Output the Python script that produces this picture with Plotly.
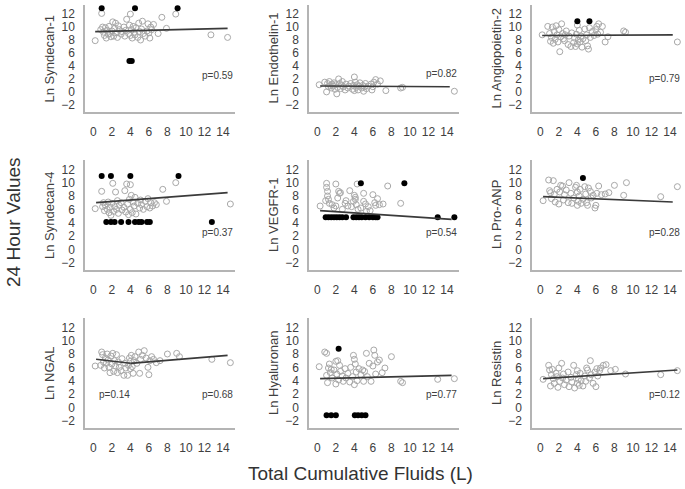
import plotly.graph_objects as go

# ---------------- data ----------------
titles = ["Ln Syndecan-1", "Ln Endothelin-1", "Ln Angiopoietin-2",
          "Ln Syndecan-4", "Ln VEGFR-1", "Ln Pro-ANP",
          "Ln NGAL", "Ln Hyaluronan", "Ln Resistin"]

x_ticks = [0, 2, 4, 6, 8, 10, 12, 14]
y_ticks = [-2, 0, 2, 4, 6, 8, 10, 12]

# Panel 1: Syndecan-1
syn1_x = [0.2,0.8,0.9,1.0,1.1,1.2,1.3,1.4,1.5,1.6,1.7,1.8,1.9,2.0,2.1,2.2,2.3,2.4,2.5,2.6,2.7,2.8,3.0,3.1,3.3,3.4,3.5,3.6,3.8,3.9,4.0,4.0,4.1,4.2,4.3,4.4,4.5,4.6,4.8,4.9,5.0,5.1,5.2,5.3,5.4,5.6,5.8,5.9,6.0,6.1,6.2,6.3,6.5,7.0,7.4,7.9,8.9,12.7,14.5]
syn1_y = [7.9,9.6,12.1,10.0,9.2,8.7,9.9,8.3,9.5,8.9,10.1,9.0,8.5,9.4,10.8,8.6,9.8,10.6,9.1,8.4,10.2,9.6,8.9,9.3,10.0,8.6,9.5,11.2,9.0,10.3,8.7,12.0,9.6,8.3,10.1,9.2,8.8,9.9,8.4,10.6,9.3,8.0,9.7,10.9,9.0,8.6,9.4,10.5,9.1,8.3,10.0,9.6,10.4,9.0,11.5,9.8,12.0,8.8,8.4]
syn1_out_x = [0.9,4.5,9.1,3.9,4.15]
syn1_out_y = [12.9,12.9,12.9,4.75,4.75]
syn1_fit_x = [0.2,14.5]
syn1_fit_y = [9.3,9.8]

# Panel 2: Endothelin-1
end1_x = [0.2,0.8,1.0,1.1,1.2,1.3,1.4,1.5,1.6,1.7,1.8,1.9,2.0,2.1,2.2,2.3,2.4,2.5,2.6,2.7,2.8,3.0,3.1,3.3,3.4,3.6,3.8,3.9,4.0,4.0,4.1,4.2,4.3,4.4,4.5,4.6,4.8,4.9,5.0,5.1,5.2,5.3,5.5,5.8,5.9,6.0,6.1,6.3,6.5,6.8,7.4,9.0,9.2,14.8]
end1_y = [1.1,1.5,0.0,1.3,0.8,1.6,1.0,0.6,1.2,0.9,1.4,0.4,1.1,-0.3,0.7,2.0,1.3,0.5,1.0,1.6,0.8,0.3,1.2,0.6,0.9,1.3,0.4,1.0,2.3,0.2,1.5,0.7,1.1,0.3,0.9,1.4,0.6,1.0,0.1,0.8,1.3,0.5,0.9,1.2,0.3,0.8,1.5,1.9,1.2,1.7,0.2,0.6,0.7,0.1]
end1_out_x = []
end1_out_y = []
end1_fit_x = [0.3,14.3]
end1_fit_y = [0.9,0.8]

# Panel 3: Angiopoietin-2
ang2_x = [0.2,0.8,1.0,1.1,1.2,1.3,1.4,1.5,1.6,1.7,1.8,1.9,2.0,2.1,2.2,2.3,2.4,2.5,2.6,2.7,2.8,3.0,3.1,3.3,3.4,3.6,3.7,3.8,3.9,4.0,4.0,4.1,4.2,4.3,4.4,4.5,4.6,4.8,4.9,5.0,5.1,5.2,5.3,5.4,5.6,5.8,6.0,6.1,6.2,6.3,6.5,6.7,7.0,7.3,9.0,9.2,14.8]
ang2_y = [8.8,10.1,9.0,7.8,8.4,10.0,7.5,9.3,8.1,10.2,8.8,7.7,9.6,6.2,8.5,10.5,9.0,8.2,7.9,8.8,9.4,7.3,8.6,7.0,9.1,7.6,8.3,7.0,8.9,10.3,7.4,8.0,9.5,7.7,8.6,6.9,8.2,9.7,7.9,8.8,7.1,6.6,9.9,8.4,9.3,8.7,9.6,10.1,8.9,10.5,9.2,10.1,7.7,8.5,9.4,9.2,7.7]
ang2_out_x = [4.0,5.3]
ang2_out_y = [10.9,10.9]
ang2_fit_x = [0.2,14.3]
ang2_fit_y = [8.7,8.8]

# Panel 4: Syndecan-4
syn4_x = [0.2,0.9,1.0,1.1,1.2,1.3,1.5,1.6,1.7,1.8,1.9,2.0,2.1,2.2,2.3,2.4,2.5,2.6,2.7,2.8,3.0,3.1,3.3,3.4,3.5,3.6,3.7,3.8,3.9,4.0,4.0,4.1,4.2,4.3,4.4,4.5,4.6,4.8,5.0,5.1,5.2,5.4,5.6,5.8,5.9,6.1,6.2,6.4,6.6,6.8,7.5,7.9,8.9,14.8]
syn4_y = [6.1,8.7,6.4,7.0,5.8,6.6,6.0,7.1,5.5,6.3,5.1,6.9,9.9,5.7,6.4,8.6,6.0,7.3,5.4,6.6,7.0,5.9,6.3,8.8,5.6,9.8,6.8,5.2,7.5,9.7,6.0,8.1,5.5,7.1,6.5,7.8,5.3,6.9,6.2,7.4,6.7,6.0,7.2,6.4,7.6,6.2,7.0,6.5,7.0,6.7,9.0,7.2,10.0,6.8]
syn4_out_x = [0.9,1.9,4.0,9.2,1.4,1.9,2.3,3.0,3.8,4.5,4.9,5.2,5.8,6.1,12.8]
syn4_out_y = [11.0,11.0,11.0,11.0,4.1,4.1,4.1,4.1,4.1,4.1,4.1,4.1,4.1,4.1,4.1]
syn4_fit_x = [0.3,14.5]
syn4_fit_y = [7.0,8.5]

# Panel 5: VEGFR-1
vegf_x = [0.3,0.9,1.0,1.0,1.1,1.1,1.2,1.3,1.6,1.8,2.0,2.0,2.2,2.3,2.4,2.5,2.7,3.0,3.1,3.3,3.5,3.7,3.9,4.0,4.1,4.1,4.2,4.3,4.4,4.7,5.0,5.0,5.2,5.3,5.5,5.7,6.0,6.2,6.3,6.5,6.7,7.1,7.6,9.0]
vegf_y = [6.5,7.3,9.9,9.3,8.7,8.0,7.5,6.9,6.7,6.2,9.8,6.5,7.7,8.7,8.4,8.5,6.0,6.9,7.3,6.5,8.8,6.4,7.2,8.1,7.8,7.5,6.7,9.8,6.0,6.2,8.4,7.2,6.8,5.7,6.4,5.8,8.2,7.0,6.6,7.6,6.7,6.8,9.5,6.9]
vegf_out_x = [0.9,1.2,1.5,1.8,2.1,2.4,2.7,3.1,3.9,4.2,4.5,4.8,5.2,5.6,6.0,6.3,6.5,13.0,14.8,4.7,9.4]
vegf_out_y = [4.8,4.8,4.8,4.8,4.8,4.8,4.8,4.8,4.8,4.8,4.8,4.8,4.8,4.8,4.8,4.8,4.8,4.8,4.8,9.9,9.9]
vegf_fit_x = [0.3,14.5]
vegf_fit_y = [5.8,4.5]

# Panel 6: Pro-ANP
panp_x = [0.3,0.9,1.0,1.1,1.2,1.4,1.5,1.6,1.8,2.0,2.1,2.2,2.4,2.5,2.6,2.8,3.0,3.1,3.3,3.4,3.6,3.8,3.9,4.0,4.0,4.1,4.2,4.3,4.4,4.6,4.8,4.9,5.0,5.1,5.2,5.4,5.5,5.7,5.9,6.0,6.1,6.3,6.6,7.0,7.4,8.0,9.0,9.3,13.0,14.8]
panp_y = [7.3,10.4,8.8,8.5,7.6,10.3,8.2,7.1,9.0,6.8,8.6,9.6,9.5,7.4,8.2,8.9,7.0,10.0,8.4,6.9,7.7,9.3,9.6,8.6,6.6,7.2,8.0,9.0,6.9,7.5,9.4,8.3,7.0,6.6,9.2,8.7,7.7,8.1,6.2,6.6,8.4,9.5,8.2,8.3,8.5,9.6,8.1,10.0,7.9,9.4]
panp_out_x = [4.6]
panp_out_y = [10.7]
panp_fit_x = [0.3,14.3]
panp_fit_y = [7.9,7.1]

# Panel 7: NGAL (two segments)
ngal_x = [0.2,0.8,0.9,1.0,1.1,1.2,1.3,1.4,1.5,1.6,1.7,1.8,1.9,2.0,2.1,2.2,2.3,2.4,2.5,2.6,2.7,2.8,3.0,3.1,3.3,3.4,3.5,3.7,3.8,3.9,4.0,4.0,4.1,4.2,4.3,4.4,4.5,4.7,4.9,5.0,5.1,5.3,5.5,5.7,5.9,6.0,6.1,6.3,6.5,6.8,7.2,8.0,9.0,9.3,12.8,14.8]
ngal_y = [6.2,6.3,8.3,7.9,6.8,5.9,7.4,6.6,8.0,7.1,6.0,5.2,7.7,6.5,8.1,5.4,7.0,6.2,7.9,5.2,6.8,6.0,5.5,7.3,4.8,6.6,5.9,4.8,6.3,7.4,5.8,6.9,7.8,6.1,5.1,7.0,7.6,6.6,8.3,5.1,7.2,7.8,8.5,7.4,6.0,4.9,7.0,7.6,7.2,6.7,7.0,8.0,8.1,7.6,7.2,6.7]
ngal_out_x = []
ngal_out_y = []
ngal_fit_x = [0.3,4.0,None,4.0,14.5]
ngal_fit_y = [7.2,6.6,None,6.6,7.8]

# Panel 8: Hyaluronan
hya_x = [0.2,0.8,1.0,1.0,1.1,1.2,1.3,1.4,1.5,1.6,1.8,2.0,2.0,2.1,2.2,2.3,2.4,2.5,2.7,2.8,3.0,3.1,3.3,3.5,3.6,3.8,3.9,4.0,4.0,4.1,4.2,4.3,4.5,4.7,4.9,5.0,5.1,5.3,5.4,5.6,5.8,6.0,6.1,6.2,6.3,6.5,6.7,7.0,7.3,8.0,9.0,9.2,13.0,14.8]
hya_y = [6.1,8.3,8.1,4.8,3.7,5.9,6.5,5.2,5.7,4.4,5.6,6.9,3.5,5.0,7.0,4.1,6.3,5.4,4.7,3.9,5.8,4.4,5.1,3.8,6.0,4.6,7.8,7.2,3.4,6.5,5.3,4.0,5.8,4.9,5.6,3.9,5.4,8.1,4.6,6.6,3.9,6.2,8.6,7.8,5.0,6.8,7.1,5.2,5.9,7.6,3.9,3.7,4.2,4.3]
hya_out_x = [2.3,1.0,1.5,2.0,4.05,4.4,4.8,5.2]
hya_out_y = [8.8,-1.2,-1.2,-1.2,-1.2,-1.2,-1.2,-1.2]
hya_fit_x = [0.3,14.5]
hya_fit_y = [4.3,4.8]

# Panel 9: Resistin
res_x = [0.3,0.9,1.0,1.1,1.2,1.3,1.4,1.5,1.7,1.8,1.9,2.0,2.1,2.3,2.4,2.5,2.6,2.8,3.0,3.1,3.3,3.4,3.6,3.7,3.9,4.0,4.0,4.1,4.2,4.3,4.4,4.6,4.8,4.9,5.0,5.1,5.3,5.4,5.5,5.7,5.9,6.0,6.1,6.2,6.4,6.5,6.8,7.1,7.6,8.1,9.2,13.0,14.8]
res_y = [4.2,6.3,5.6,3.2,4.9,5.7,4.3,3.6,5.1,4.6,3.0,5.9,3.9,6.6,4.4,5.0,3.4,4.1,5.3,3.1,4.5,3.8,6.3,2.9,4.9,3.6,5.5,4.2,3.3,5.1,4.0,3.2,4.7,3.9,5.9,5.6,4.4,7.0,4.9,3.6,5.3,3.1,5.8,4.7,5.5,5.9,6.3,6.4,5.5,5.7,5.0,4.9,5.5]
res_out_x = []
res_out_y = []
res_fit_x = [0.3,14.8]
res_fit_y = [4.3,5.6]

p_labels = ["p=0.59", "p=0.82", "p=0.79", "p=0.37", "p=0.54", "p=0.28", "p=0.68", "p=0.77", "p=0.12"]
p_label_y = [2.5, 2.8, 2.1, 2.5, 2.5, 2.5, 2.0, 2.0, 2.0]
ngal_left_p = "p=0.14"

panels = [
    (syn1_x, syn1_y, syn1_out_x, syn1_out_y, syn1_fit_x, syn1_fit_y),
    (end1_x, end1_y, end1_out_x, end1_out_y, end1_fit_x, end1_fit_y),
    (ang2_x, ang2_y, ang2_out_x, ang2_out_y, ang2_fit_x, ang2_fit_y),
    (syn4_x, syn4_y, syn4_out_x, syn4_out_y, syn4_fit_x, syn4_fit_y),
    (vegf_x, vegf_y, vegf_out_x, vegf_out_y, vegf_fit_x, vegf_fit_y),
    (panp_x, panp_y, panp_out_x, panp_out_y, panp_fit_x, panp_fit_y),
    (ngal_x, ngal_y, ngal_out_x, ngal_out_y, ngal_fit_x, ngal_fit_y),
    (hya_x, hya_y, hya_out_x, hya_out_y, hya_fit_x, hya_fit_y),
    (res_x, res_y, res_out_x, res_out_y, res_fit_x, res_fit_y),
]

# ---------------- layout ----------------
W, H = 685, 489
col_px = [(85, 235), (309, 459), (532, 682)]
row_px = [(5, 112), (160, 270), (318, 428)]
FONT = "Arial, Liberation Sans, sans-serif"
TXT = "#404040"

fig = go.Figure()
layout = dict(
    width=W, height=H, margin=dict(l=0, r=0, t=0, b=0),
    plot_bgcolor="white", paper_bgcolor="white", showlegend=False,
    font=dict(family=FONT, color=TXT),
)
annotations = []

for i, (gx, gy, ox, oy, fx, fy) in enumerate(panels):
    r, c = divmod(i, 3)
    n = i + 1
    xa = "x" if n == 1 else f"x{n}"
    ya = "y" if n == 1 else f"y{n}"
    fig.add_trace(go.Scatter(x=gx, y=gy, mode="markers", xaxis=xa, yaxis=ya,
                             marker=dict(symbol="circle-open", size=6, color="#a8a8a8",
                                         line=dict(width=1, color="#a8a8a8")),
                             hoverinfo="skip"))
    if ox:
        fig.add_trace(go.Scatter(x=ox, y=oy, mode="markers", xaxis=xa, yaxis=ya,
                                 marker=dict(symbol="circle", size=6, color="black"),
                                 hoverinfo="skip"))
    fig.add_trace(go.Scatter(x=fx, y=fy, mode="lines", xaxis=xa, yaxis=ya,
                             line=dict(color="#3a3a3a", width=1.6), hoverinfo="skip",
                             connectgaps=False))
    x0, x1 = col_px[c]
    y0, y1 = row_px[r]
    key_x = "xaxis" if n == 1 else f"xaxis{n}"
    key_y = "yaxis" if n == 1 else f"yaxis{n}"
    layout[key_x] = dict(domain=[x0 / W, x1 / W], range=[-0.9, 15.3], anchor=ya,
                         tickvals=x_ticks, showgrid=False, zeroline=False,
                         showline=True, linecolor="#b4b4b4", linewidth=1.5,
                         ticks="", ticklabelstandoff=8, ticklabeloverflow="allow",
                         tickfont=dict(size=12, color=TXT, family=FONT))
    layout[key_y] = dict(domain=[1 - y1 / H, 1 - y0 / H], range=[-3.1, 13.4], anchor=xa,
                         tickvals=y_ticks, showgrid=False, zeroline=False,
                         showline=True, linecolor="#b4b4b4", linewidth=1.5,
                         ticks="", ticklabelstandoff=6, ticklabeloverflow="allow",
                         tickfont=dict(size=12, color=TXT, family=FONT))
    # y-axis title
    annotations.append(dict(text=titles[i], textangle=-90, xref="paper", yref="paper",
                            x=(x0 - 36) / W, y=1 - (y0 + y1) / 2 / H,
                            xanchor="center", yanchor="middle", showarrow=False,
                            font=dict(size=13, color=TXT, family=FONT)))
    # p-value
    annotations.append(dict(text=p_labels[i], xref=f"{xa} domain", yref=ya,
                            x=1.0, y=p_label_y[i], xanchor="right", yanchor="middle",
                            showarrow=False, font=dict(size=10, color=TXT, family=FONT)))
    if titles[i] == "Ln NGAL":
        annotations.append(dict(text=ngal_left_p, xref=xa, yref=ya, x=0.4, y=p_label_y[i],
                                xanchor="left", yanchor="middle", showarrow=False,
                                font=dict(size=10, color=TXT, family=FONT)))

annotations.append(dict(text="24 Hour Values", textangle=-90, xref="paper", yref="paper",
                        x=13 / W, y=1 - 222 / H, xanchor="center", yanchor="middle",
                        showarrow=False, font=dict(size=19, color="#333333", family=FONT)))
annotations.append(dict(text="Total Cumulative Fluids (L)", xref="paper", yref="paper",
                        x=360 / W, y=1 - 473 / H, xanchor="center", yanchor="middle",
                        showarrow=False, font=dict(size=19, color="#333333", family=FONT)))

layout["annotations"] = annotations
fig.update_layout(**layout)
fig.write_html("out.html", config={"displayModeBar": False},
               post_script="document.body.style.margin='0';document.body.style.padding='0';document.body.style.overflow='hidden';")
